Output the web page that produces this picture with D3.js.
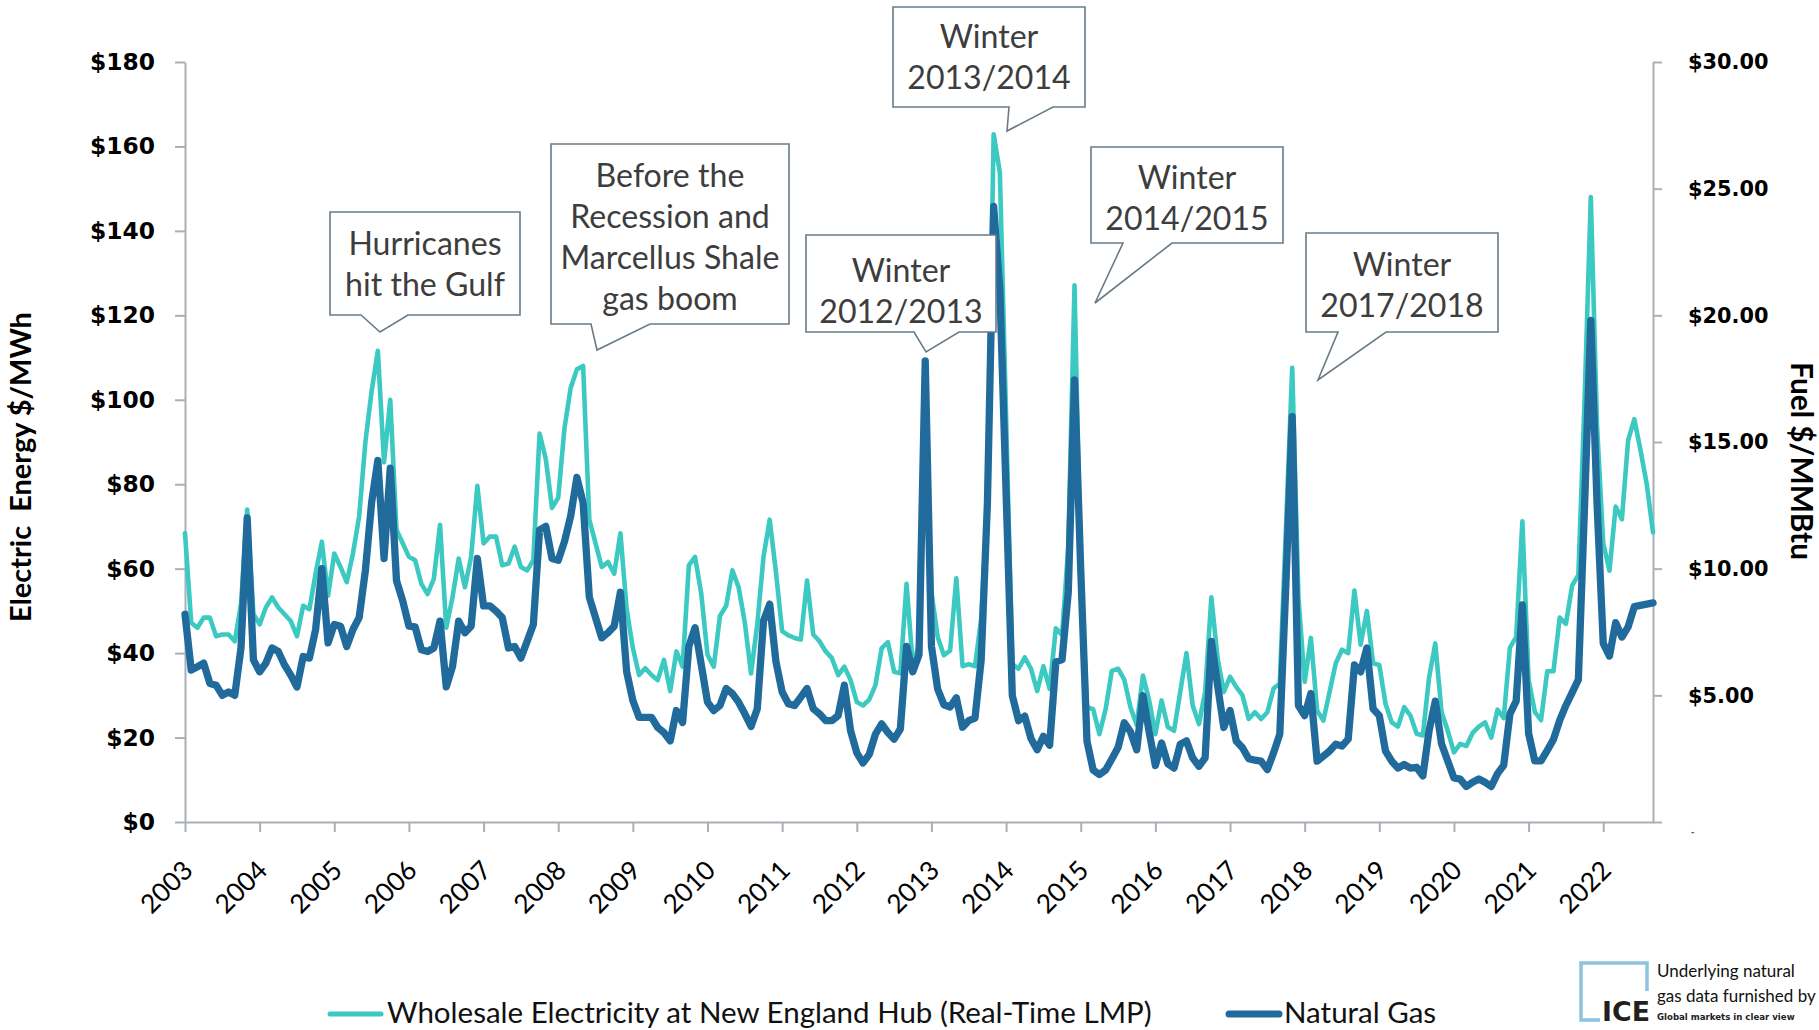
<!DOCTYPE html>
<html><head><meta charset="utf-8">
<script src="https://cdn.jsdelivr.net/npm/d3@7"></script>
<style>
html,body{margin:0;padding:0;background:#fff;}
svg{display:block;}
</style></head><body>
<svg id="chart" width="1819" height="1030"></svg>
<script>
// ---------------- DATA ----------------
const yearLabels = [2003,2004,2005,2006,2007,2008,2009,2010,2011,2012,2013,2014,2015,2016,2017,2018,2019,2020,2021,2022];
const leftTickValues = [0,20,40,60,80,100,120,140,160,180];
const rightTickValues = [0,5,10,15,20,25,30];
const seriesNames = ["Wholesale Electricity at New England Hub (Real-Time LMP)", "Natural Gas"];
const leftAxisTitle = "Electric  Energy $/MWh";
const rightAxisTitle = "Fuel $/MMBtu";
// monthly, Jan 2003 onward ($/MWh)
const electricity = [68.4,47.2,46,48.4,48.4,44,44.4,44.4,42.8,51.6,
74,49.2,46.8,50.8,53.2,50.8,49.2,47.6,44,51.2,
50.4,58.8,66.4,53.6,63.6,60.4,56.8,63.6,72.4,90,
102,111.6,85.2,100,69.2,66,62.8,62,56.4,54,
57.6,70.4,46,53.2,62.4,55.6,62.8,79.6,66,67.6,
67.6,60.8,61.2,65.2,60.4,59.6,62,92,86,74.4,
76.8,93.2,102.8,107.2,108,71.6,66,60.4,61.6,58.8,
68.4,50.4,41.2,34.8,36.4,34.8,33.6,38.4,31,40.4,
36.8,60.8,62.8,54,39.6,36.8,48.8,51.2,59.6,55.6,
47.2,35.2,46.8,62.8,71.6,59.2,45.2,44.2,43.6,43.2,
57.2,44.4,42.8,40.4,38.8,34.8,36.8,33.6,28.4,27.6,
29,32.4,41.2,42.6,35.6,35.2,56.4,37,42,104,
54.5,43.8,39.5,40.6,57.7,36.9,37.4,36.9,48.1,75.9,
162.9,153.8,96,37.4,36.3,39,36.3,31,36.9,31.5,
45.9,44.3,65.2,127.1,59.8,27.2,26.7,20.8,26.7,35.8,
36.3,33.7,27.2,23,34.7,28.8,20.8,28.8,22.5,21.6,
30.8,40,27.6,23.2,30.8,53.2,38.8,30.8,34.4,32,
30,24.4,26,24.4,26,31.6,32.8,70,107.6,53.2,
33.2,43.6,26.4,24,30.8,37.6,40.8,40,54.8,42,
50,37.6,37.2,28,23.6,22.6,27.2,25.2,20.9,20.5,
34.2,42.3,26.1,21.6,16.5,18.5,18,21.1,22.6,23.6,
20,26.6,24.6,41.3,43.8,71.2,33.7,26.1,24.1,35.7,
35.7,48.4,46.9,56,58.5,100,148,94,66,59.5,
74.7,71.7,90.4,95.4,88,80,68.6];
// monthly, Jan 2003 onward ($/MMBtu)
const naturalGas = [8.2,6.0,6.13,6.27,5.47,5.4,5.0,5.13,5.0,6.87,
12.0,6.4,5.93,6.27,6.87,6.73,6.2,5.8,5.33,6.53,
6.47,7.6,10.0,7.07,7.8,7.73,6.93,7.6,8.07,9.93,
12.6,14.27,10.4,13.97,9.53,8.73,7.73,7.7,6.8,6.73,
6.87,7.93,5.33,6.13,7.93,7.47,7.73,10.4,8.53,8.53,
8.33,8.07,6.87,6.93,6.47,7.13,7.8,11.53,11.67,10.4,
10.33,11.07,12.07,13.6,12.6,8.87,8.07,7.27,7.47,7.73,
9.07,5.93,4.8,4.13,4.13,4.13,3.73,3.53,3.2,4.4,
3.93,6.93,7.67,6.2,4.73,4.4,4.6,5.27,5.07,4.73,
4.27,3.77,4.47,7.93,8.6,6.33,5.13,4.67,4.6,4.93,
5.27,4.47,4.27,4.0,4.0,4.2,5.4,3.6,2.73,2.33,
2.67,3.47,3.87,3.53,3.27,3.67,6.93,5.93,6.6,18.2,
6.94,5.25,4.63,4.54,4.9,3.74,4.0,4.1,6.41,12.6,
24.3,21.0,13.0,4.99,4.0,4.18,3.3,2.85,3.38,3.03,
6.32,6.41,9.08,17.45,9.97,3.2,2.05,1.87,2.05,2.49,
2.94,3.92,3.56,2.85,4.99,3.56,2.23,3.12,2.3,2.13,
3.07,3.2,2.53,2.2,2.53,7.13,5.4,3.73,4.4,3.2,
2.93,2.5,2.44,2.4,2.07,2.73,3.47,9.5,16.0,4.6,
4.2,5.07,2.4,2.6,2.8,3.07,3.0,3.27,6.2,5.93,
6.87,4.47,4.2,2.8,2.4,2.13,2.27,2.13,2.16,1.82,
3.6,4.77,3.09,2.41,1.74,1.69,1.4,1.57,1.7,1.57,
1.4,1.91,2.24,4.27,4.77,8.57,3.5,2.41,2.41,2.83,
3.26,4.01,4.6,5.11,5.62,12.5,19.8,12.6,7.05,6.55,
7.87,7.3,7.7,8.5,8.55,8.6,8.65];
const annotationTexts = [
  ["Hurricanes","hit the Gulf"],
  ["Before the","Recession and","Marcellus Shale","gas boom"],
  ["Winter","2012/2013"],
  ["Winter","2013/2014"],
  ["Winter","2014/2015"],
  ["Winter","2017/2018"]
];
const creditLines = ["Underlying natural","gas data furnished by","Global markets in clear view"];

// ---------------- DRAWING ----------------
const svg = d3.select("#chart");
const axisColor = "#a9b0b6";
const tealColor = "#3cc9c1";
const darkColor = "#206b9c";
const textFont = "Lato, 'Open Sans', sans-serif";

function fitWidth(sel, target){
  sel.each(function(){
    const len = this.getComputedTextLength();
    const fs = parseFloat(d3.select(this).attr("font-size"));
    if (len > 0) d3.select(this).attr("font-size", fs * target / len);
  });
}

const x = d3.scaleLinear().domain([0, electricity.length - 1]).range([185, 1653]);
const yL = d3.scaleLinear().domain([0, 180]).range([822, 62]);
const yR = d3.scaleLinear().domain([0, 30]).range([822, 62]);

// Left axis
const gL = svg.append("g").attr("transform","translate(185,0)")
  .call(d3.axisLeft(yL).tickValues(leftTickValues).tickSize(10).tickSizeOuter(0).tickPadding(20).tickFormat(d => "$" + d));
gL.select(".domain").attr("stroke", axisColor).attr("stroke-width", 2);
gL.selectAll(".tick line").attr("stroke", axisColor).attr("stroke-width", 2);
gL.selectAll(".tick text").attr("font-family","'DejaVu Sans', Verdana, sans-serif").attr("font-weight","bold")
  .attr("font-size", 23).attr("fill","#000");
fitWidth(gL.selectAll(".tick text").filter(d => d === 180), 65);
const lfs = gL.selectAll(".tick text").filter(d => d === 180).attr("font-size");
gL.selectAll(".tick text").attr("font-size", lfs);

// Right axis
const gR = svg.append("g").attr("transform","translate(1653,0)")
  .call(d3.axisRight(yR).tickValues(rightTickValues).tickSize(9).tickSizeOuter(0).tickPadding(26)
    .tickFormat(d => d === 0 ? "-" : "$" + d.toFixed(2)));
gR.select(".domain").attr("stroke", axisColor).attr("stroke-width", 2);
gR.selectAll(".tick line").attr("stroke", axisColor).attr("stroke-width", 2);
gR.selectAll(".tick text").attr("font-family","'DejaVu Sans', Verdana, sans-serif").attr("font-weight","bold")
  .attr("font-size", 21).attr("fill","#000");
fitWidth(gR.selectAll(".tick text").filter(d => d === 30), 80.5);
const rfs = gR.selectAll(".tick text").filter(d => d === 30).attr("font-size");
gR.selectAll(".tick text").attr("font-size", rfs);
gR.selectAll(".tick text").filter(d => d === 0).attr("font-size", 8).attr("fill","#555").attr("dy", "1.6em").attr("x", 38);

// X axis
const gX = svg.append("g").attr("transform","translate(0,822)")
  .call(d3.axisBottom(x).tickValues(yearLabels.map((yr, k) => k * 12)).tickSize(10).tickSizeOuter(0)
    .tickFormat((d, k) => yearLabels[k]));
gX.select(".domain").attr("stroke", axisColor).attr("stroke-width", 2);
gX.selectAll(".tick line").attr("stroke", axisColor).attr("stroke-width", 2);
gX.selectAll(".tick text").attr("font-family", textFont).attr("font-size", 26).attr("fill","#000")
  .attr("text-anchor","end").attr("x", 0).attr("y", 0).attr("dy", 0)
  .attr("transform","translate(9,50) rotate(-45)");
fitWidth(gX.selectAll(".tick text").filter((d,k) => k === 1), 61);
const xfs = gX.selectAll(".tick text").filter((d,k) => k === 1).attr("font-size");
gX.selectAll(".tick text").attr("font-size", xfs);

// Axis titles
const tL = svg.append("text").text(leftAxisTitle).style("white-space","pre")
  .attr("font-family", textFont).attr("font-weight","bold").attr("font-size", 26).attr("fill","#000")
  .attr("text-anchor","middle").attr("transform","translate(31,467) rotate(-90)");
fitWidth(tL, 310);
const tR = svg.append("text").text(rightAxisTitle)
  .attr("font-family", textFont).attr("font-weight","bold").attr("font-size", 26).attr("fill","#000")
  .attr("text-anchor","middle").attr("transform","translate(1791,461) rotate(90)");
fitWidth(tR, 198);

// Lines
const lineE = d3.line().x((d, i) => x(i)).y(d => yL(d));
const lineG = d3.line().x((d, i) => x(i)).y(d => yR(d));
svg.append("path").datum(electricity).attr("d", lineE).attr("fill","none")
  .attr("stroke", tealColor).attr("stroke-width", 4.6).attr("stroke-linejoin","round").attr("stroke-linecap","round");
svg.append("path").datum(naturalGas).attr("d", lineG).attr("fill","none")
  .attr("stroke", darkColor).attr("stroke-width", 7.3).attr("stroke-linejoin","round").attr("stroke-linecap","round");

// Callouts: box [x0,y0,x1,y1], pointer [baseLeft, baseRight, tipX, tipY], text offset
const calloutLayout = [
  {box:[330,212,520,315], ptr:[361,408,380,332], dy:0},
  {box:[551,144,789,324], ptr:[591,650,597,350], dy:0},
  {box:[806,235,996,332], ptr:[914,959,926,352], dy:4},
  {box:[893,7,1085,107],  ptr:[1009,1053,1007,131], dy:-2},
  {box:[1091,147,1283,243], ptr:[1123,1172,1095,303], dy:-1},
  {box:[1306,233,1498,332], ptr:[1338,1386,1318,380], dy:0}
];
const cg = svg.append("g");
// common annotation font size, fitted on "Marcellus Shale"
const probe = cg.append("text").text(annotationTexts[1][2]).attr("font-family", textFont).attr("font-size", 32);
fitWidth(probe, 219);
const annFs = +probe.attr("font-size");
probe.remove();
calloutLayout.forEach((c, k) => {
  const [x0,y0,x1,y1] = c.box, [b1,b2,tx,ty] = c.ptr;
  const p = d3.path();
  p.moveTo(x0,y0); p.lineTo(x1,y0); p.lineTo(x1,y1); p.lineTo(b2,y1); p.lineTo(tx,ty); p.lineTo(b1,y1); p.lineTo(x0,y1); p.closePath();
  cg.append("path").attr("d", p.toString()).attr("fill","#fff").attr("stroke","#687b86").attr("stroke-width",1.6);
  const cx = (x0 + x1) / 2;
  annotationTexts[k].forEach((line, j) => {
    cg.append("text").text(line).attr("x", cx).attr("y", y0 + 43 + c.dy + j * 41)
      .attr("text-anchor","middle").attr("font-family", textFont).attr("font-size", annFs).attr("fill","#3d3d3d");
  });
});

// Legend
const lg = svg.append("g");
lg.append("line").attr("x1",330).attr("x2",381).attr("y1",1014).attr("y2",1014)
  .attr("stroke", tealColor).attr("stroke-width",5).attr("stroke-linecap","round");
const l1 = lg.append("text").text(seriesNames[0]).attr("x",387).attr("y",1023)
  .attr("font-family", textFont).attr("font-size",28).attr("fill","#111");
fitWidth(l1, 765);
lg.append("line").attr("x1",1229).attr("x2",1279).attr("y1",1014).attr("y2",1014)
  .attr("stroke", darkColor).attr("stroke-width",7).attr("stroke-linecap","round");
const l2 = lg.append("text").text(seriesNames[1]).attr("x",1284).attr("y",1023)
  .attr("font-family", textFont).attr("font-size", l1.attr("font-size")).attr("fill","#111");

// ICE credit
const ice = svg.append("g");
ice.append("path").attr("d","M1600,1020 H1581 V963 H1647 V991").attr("fill","none")
  .attr("stroke","#8fc3de").attr("stroke-width",3.5);
const iceT = ice.append("text").text("ICE").attr("x",1602).attr("y",1021)
  .attr("font-family","'DejaVu Sans', sans-serif").attr("font-weight","bold").attr("font-size",27).attr("fill","#231f20");
fitWidth(iceT, 48);
const c1 = ice.append("text").text(creditLines[0]).attr("x",1657).attr("y",977)
  .attr("font-family", textFont).attr("font-size",16).attr("fill","#111");
fitWidth(c1, 138);
const c2 = ice.append("text").text(creditLines[1]).attr("x",1657).attr("y",1002)
  .attr("font-family", textFont).attr("font-size", c1.attr("font-size")).attr("fill","#111");
ice.append("text").text(creditLines[2]).attr("x",1657).attr("y",1020)
  .attr("font-family","'DejaVu Sans', sans-serif").attr("font-weight","bold").attr("font-size",8.6).attr("fill","#222");
</script>
</body></html>
